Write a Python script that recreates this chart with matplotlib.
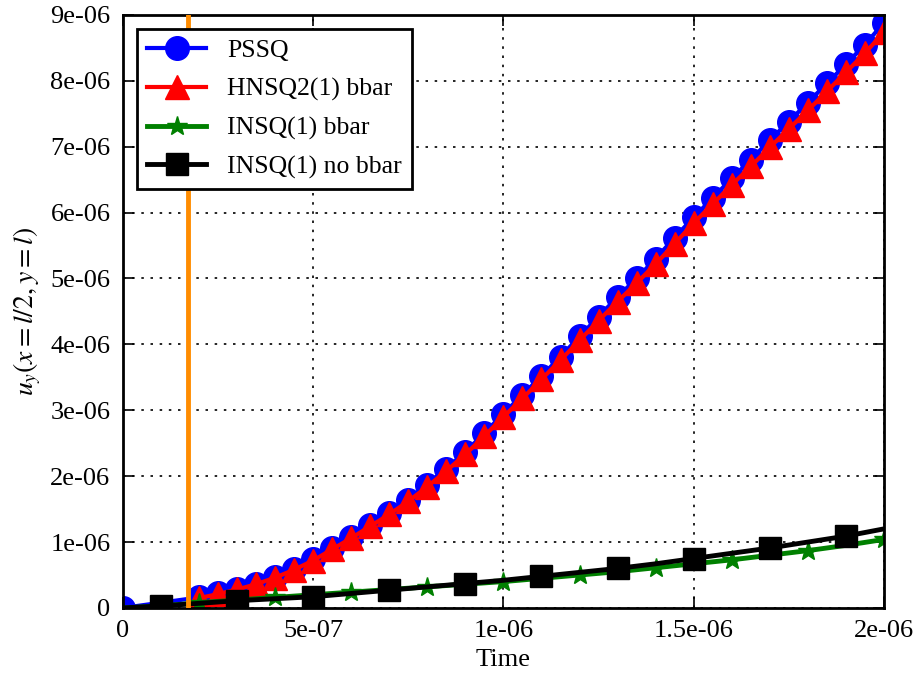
import numpy as np
import matplotlib
matplotlib.use("Agg")
import matplotlib.pyplot as plt
from matplotlib.ticker import FuncFormatter, MultipleLocator

plt.rcParams['font.family'] = ['Liberation Serif', 'DejaVu Serif']
plt.rcParams['mathtext.fontset'] = 'stix'

# PSSQ / HNSQ2 sampled every 5e-8 s (plus the origin for PSSQ)
t_fine = np.array([0.0, 2.0, 2.5, 3.0, 3.5, 4.0, 4.5, 5.0, 5.5, 6.0, 6.5, 7.0, 7.5,
                   8.0, 8.5, 9.0, 9.5, 10.0, 10.5, 11.0, 11.5, 12.0, 12.5, 13.0,
                   13.5, 14.0, 14.5, 15.0, 15.5, 16.0, 16.5, 17.0, 17.5, 18.0,
                   18.5, 19.0, 19.5, 20.0]) * 1e-7
pssq = np.array([0.0, 0.16, 0.22, 0.29, 0.37, 0.47, 0.59, 0.74, 0.91, 1.08, 1.26,
                 1.44, 1.64, 1.87, 2.11, 2.37, 2.65, 2.95, 3.23, 3.52, 3.81, 4.12,
                 4.42, 4.72, 5.00, 5.30, 5.62, 5.93, 6.22, 6.52, 6.80, 7.10, 7.38,
                 7.67, 7.96, 8.25, 8.55, 8.88]) * 1e-6
t_hnsq = t_fine[1:]
hnsq2 = np.array([0.15, 0.21, 0.28, 0.36, 0.46, 0.58, 0.72, 0.89, 1.06, 1.24, 1.42,
                  1.62, 1.84, 2.08, 2.33, 2.61, 2.90, 3.18, 3.47, 3.76, 4.06, 4.36,
                  4.65, 4.93, 5.22, 5.53, 5.84, 6.13, 6.42, 6.70, 6.99, 7.27, 7.55,
                  7.84, 8.13, 8.42, 8.74]) * 1e-6

# INSQ runs sampled every 1e-7 s
t_coarse = np.arange(21) * 1e-7
insq_bbar = np.array([0.0, 0.03, 0.08, 0.12, 0.16, 0.20, 0.24, 0.28, 0.32, 0.36,
                      0.40, 0.45, 0.50, 0.55, 0.61, 0.67, 0.73, 0.80, 0.87, 0.95,
                      1.04]) * 1e-6
insq_nobbar = np.array([0.0, 0.03, 0.07, 0.11, 0.14, 0.17, 0.22, 0.27, 0.32, 0.37,
                        0.42, 0.48, 0.54, 0.60, 0.67, 0.75, 0.83, 0.91, 1.00, 1.09,
                        1.20]) * 1e-6

t_arrival = 1.71e-7

fig = plt.figure(figsize=(9.17, 6.77), dpi=100)
ax = fig.add_axes([0.134, 0.102, 0.830, 0.876])

ax.plot(t_fine, pssq, 'o-', color='blue', lw=3, ms=17, label='PSSQ')
ax.plot(t_hnsq, hnsq2, '^-', color='red', lw=3, ms=17, label='HNSQ2(1) bbar')
ax.plot(t_coarse, insq_bbar, '*-', color='green', lw=3.5, ms=15,
        markevery=(2, 2), label='INSQ(1) bbar')
ax.plot(t_coarse, insq_nobbar, 's-', color='black', lw=3.5, ms=16,
        markevery=(1, 2), label='INSQ(1) no bbar')
ax.axvline(t_arrival, color='darkorange', lw=3.5, zorder=3)

ax.set_xlim(0, 2e-6)
ax.set_ylim(0, 9e-6)
ax.xaxis.set_major_locator(MultipleLocator(5e-7))
ax.yaxis.set_major_locator(MultipleLocator(1e-6))
fmt = FuncFormatter(lambda v, p: '%g' % v)
ax.xaxis.set_major_formatter(fmt)
ax.yaxis.set_major_formatter(fmt)
ax.tick_params(direction='in', top=True, right=True, length=8, width=1.2,
               labelsize=19, pad=9)
for s in ax.spines.values():
    s.set_linewidth(2)
ax.grid(True, color='black', linestyle=(0, (1.5, 4)), linewidth=1.2)

ax.set_xlabel('Time', fontsize=19, labelpad=5)
ax.set_ylabel(r'$u_y(x=l/2,y=l)$', fontsize=20, labelpad=5)

leg = ax.legend(loc='upper left', numpoints=1, fontsize=18.5, fancybox=False,
                framealpha=1, edgecolor='black', handlelength=2.3,
                handletextpad=0.8, labelspacing=0.6, borderaxespad=0.55)
leg.get_frame().set_linewidth(2)

fig.savefig('out.png', dpi=100)
